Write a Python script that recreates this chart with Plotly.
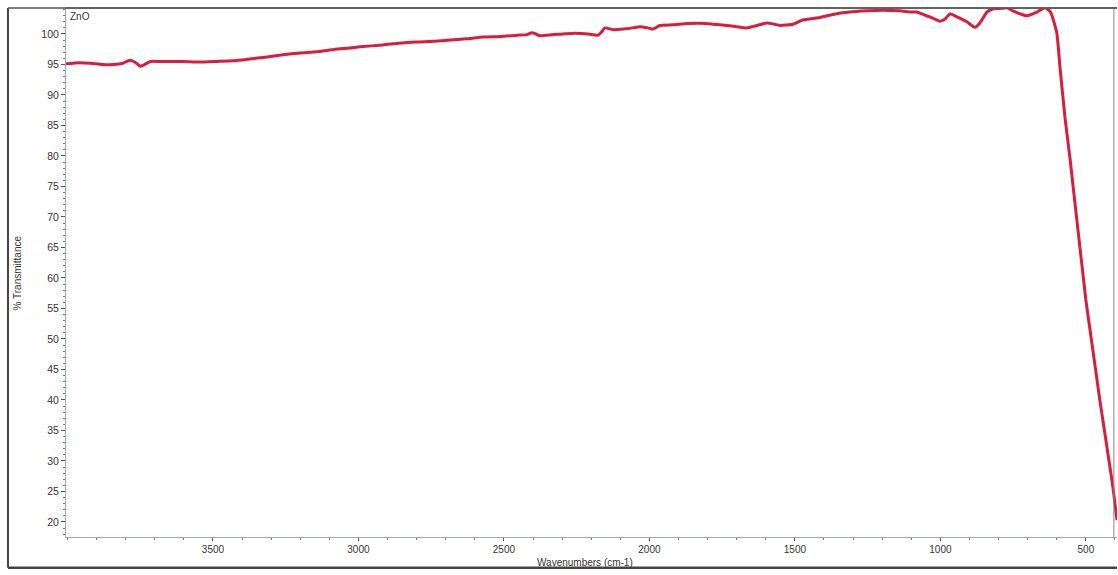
import plotly.graph_objects as go

# Wavenumbers (cm-1), descending
wavenumber = [4005, 3960, 3920, 3880, 3840, 3810, 3785, 3765, 3750, 3735, 3715, 3680,
              3640, 3600, 3550, 3486, 3430, 3373, 3320, 3259, 3200, 3142, 3080, 3029,
              2995, 2916, 2860, 2801, 2740, 2686, 2630, 2572, 2510, 2455, 2420, 2404,
              2390, 2376, 2330, 2263, 2210, 2177, 2165, 2153, 2125, 2090, 2057, 2033,
              2005, 1988, 1964, 1920, 1870, 1826, 1780, 1734, 1700, 1665, 1630, 1596,
              1570, 1552, 1507, 1473, 1414, 1370, 1311, 1250, 1200, 1140, 1100, 1081,
              1060, 1036, 1002, 985, 967, 943, 909, 881, 864, 840, 820, 790, 771, 751,
              720, 703, 668, 641, 625, 617, 600, 589, 572, 555, 500, 476, 452,
              421, 407, 393]
transmittance = [95.1, 95.3, 95.2, 95.0, 95.0, 95.2, 95.7, 95.3, 94.7, 95.0, 95.5, 95.5,
                 95.5, 95.5, 95.4, 95.5, 95.6, 95.9, 96.2, 96.6, 96.9, 97.1, 97.5, 97.7,
                 97.9, 98.2, 98.5, 98.7, 98.8, 99.0, 99.2, 99.5, 99.6, 99.8, 99.9, 100.2,
                 100.0, 99.7, 99.9, 100.1, 100.0, 99.8, 100.3, 101.0, 100.7, 100.8, 101.0, 101.2,
                 101.0, 100.8, 101.4, 101.5, 101.7, 101.75, 101.6, 101.4, 101.2, 101.0, 101.4, 101.8,
                 101.6, 101.4, 101.6, 102.3, 102.7, 103.2, 103.6, 103.8, 103.9, 103.8, 103.6, 103.6,
                 103.2, 102.8, 102.1, 102.4, 103.3, 102.8, 102.0, 101.1, 101.8, 103.6, 104.1, 104.2, 104.3, 103.8,
                 103.2, 103.0, 103.6, 104.3, 103.8, 103.1, 100.2, 94.6, 86.4, 79.8, 56.4, 48.2, 40.0,
                 30.2, 25.7, 20.3]

y_ticks = list(range(20, 101, 5))
x_ticks = [3500, 3000, 2500, 2000, 1500, 1000, 500]

FONT = "Liberation Sans, Arial, sans-serif"
AXIS_COL = "#9aa6c2"
TXT = "#333333"

fig = go.Figure()
fig.add_trace(go.Scatter(
    x=wavenumber, y=transmittance, mode="lines",
    line=dict(color="#d81e3e", width=3, shape="spline", smoothing=0.5),
    hoverinfo="skip", showlegend=False,
))

fig.update_layout(
    width=1118, height=575,
    margin=dict(l=66, r=1, t=8, b=38),
    paper_bgcolor="white", plot_bgcolor="white",
    font=dict(family=FONT, color=TXT, size=10),
    xaxis=dict(
        range=[4005, 393], tickvals=x_ticks, ticktext=[str(v) for v in x_ticks],
        showgrid=False, zeroline=False, showline=True, linecolor=AXIS_COL, linewidth=1,
        ticks="outside", ticklen=3, tickcolor="#555", tickfont=dict(size=10, color=TXT),
        minor=dict(dtick=100, tick0=0, ticks="outside", ticklen=2, tickcolor="#777"),
    ),
    yaxis=dict(
        range=[17.54, 104.26], tickvals=y_ticks, ticktext=[str(v) for v in y_ticks],
        showgrid=False, zeroline=False, showline=True, linecolor=AXIS_COL, linewidth=1,
        ticks="outside", ticklen=4, tickcolor="#555", tickfont=dict(size=10.5, color=TXT),
        minor=dict(dtick=1, tick0=0, ticks="outside", ticklen=2, tickcolor="#777"),
    ),
    annotations=[
        dict(text="ZnO", x=0.002, y=0.983, xref="paper", yref="paper",
             xanchor="left", yanchor="middle", showarrow=False,
             font=dict(size=10, color=TXT)),
        dict(text="% Transmittance", x=-0.0457, y=0.5, xref="paper", yref="paper",
             xanchor="center", yanchor="middle", textangle=-90, showarrow=False,
             font=dict(size=10, color=TXT)),
        dict(text="Wavenumbers (cm-1)", x=0.494, y=-0.049, xref="paper", yref="paper",
             xanchor="center", yanchor="middle", showarrow=False,
             font=dict(size=10, color=TXT)),
    ],
    shapes=[
        # plot frame top and right
        dict(type="line", xref="paper", yref="paper", x0=0, x1=1, y0=1, y1=1,
             line=dict(color="#666", width=1.5)),
        dict(type="line", xref="paper", yref="paper", x0=0.997, x1=0.997, y0=0, y1=1,
             line=dict(color="#888", width=1)),
        # outer document frame
        dict(type="line", xref="paper", yref="paper", x0=-0.0552, x1=-0.0552, y0=-0.058, y1=1,
             line=dict(color="#444", width=2)),
        dict(type="line", xref="paper", yref="paper", x0=-0.0552, x1=1, y0=1, y1=1,
             line=dict(color="#555", width=1.5)),
        dict(type="line", xref="paper", yref="paper", x0=-0.0552, x1=1, y0=-0.058, y1=-0.058,
             line=dict(color="#444", width=2.5)),
    ],
)

fig.write_html("out.html", config={"displayModeBar": False},
               post_script="document.body.style.margin='0';document.body.style.overflow='hidden';")
